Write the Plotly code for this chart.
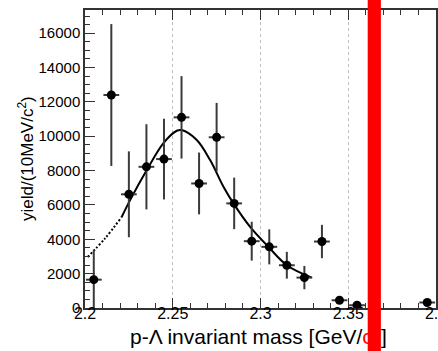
import plotly.graph_objects as go

# Data
mass = [2.205, 2.215, 2.225, 2.235, 2.245, 2.255, 2.265, 2.275, 2.285,
        2.295, 2.305, 2.315, 2.325, 2.335, 2.345, 2.355, 2.395]
yield_vals = [1650, 12400, 6620, 8220, 8670, 11100, 7250, 9940, 6090,
              3890, 3560, 2490, 1770, 3870, 450, 160, 320]
yield_err = [1720, 4130, 2500, 2480, 2350, 2400, 1800, 2000, 1500,
             1130, 1020, 780, 680, 970, 150, 100, 100]
bin_half = 0.0045

# Fit curve
fit_dot_x = [2.2015, 2.2114, 2.2209]
fit_dot_y = [2970, 4050, 5300]
fit_x = [2.2209, 2.2257, 2.2352, 2.2446, 2.2523, 2.2551, 2.2637, 2.2713,
         2.2789, 2.2846, 2.2941, 2.3045, 2.3150, 2.3292]
fit_y = [5300, 6280, 8030, 9590, 10320, 10360, 9780, 8610,
         7060, 6090, 4720, 3560, 2490, 1770]

x_ticks = [2.2, 2.25, 2.3, 2.35, 2.4]
x_ticklabels = ["2.2", "2.25", "2.3", "2.35", "2.4"]
y_ticks = [0, 2000, 4000, 6000, 8000, 10000, 12000, 14000, 16000]

x_title = "p-Λ invariant mass [GeV/<span style='color:#ff0000'>c<sup>2</sup></span>]"
y_title = "yield/(10MeV/c<sup>2</sup>)"

FONT = "Liberation Sans, Arial, sans-serif"

fig = go.Figure()
fig.add_trace(go.Scatter(x=fit_dot_x, y=fit_dot_y, mode="lines",
                         line=dict(color="black", width=2, dash="2px,2px", shape="spline"),
                         showlegend=False, hoverinfo="skip"))
fig.add_trace(go.Scatter(x=fit_x, y=fit_y, mode="lines",
                         line=dict(color="black", width=2, shape="spline"),
                         showlegend=False, hoverinfo="skip"))
fig.add_trace(go.Scatter(
    x=mass, y=yield_vals, mode="markers",
    marker=dict(color="black", size=9, symbol="circle"),
    error_y=dict(type="data", array=yield_err, color="#3a3a3a", thickness=2, width=0),
    error_x=dict(type="constant", value=bin_half, color="#3a3a3a", thickness=2, width=0),
    showlegend=False))

# red vertical bar overlaying the figure
fig.add_shape(type="rect", xref="paper", yref="paper",
              x0=0.8054, x1=0.843, y0=-0.3, y1=1.2,
              fillcolor="#ff0000", line=dict(width=0), layer="above")

fig.add_annotation(text=x_title, xref="paper", yref="paper", x=0.4957, y=-0.0906,
                   xanchor="center", yanchor="middle", showarrow=False,
                   font=dict(size=21, family=FONT, color="black"))
fig.add_annotation(text=y_title, xref="paper", yref="paper", x=-0.168, y=0.5,
                   xanchor="center", yanchor="middle", showarrow=False, textangle=-90,
                   font=dict(size=17, family=FONT, color="black"))

fig.update_layout(
    width=438, height=351,
    margin=dict(l=85, r=2, t=10, b=43, autoexpand=False),
    paper_bgcolor="white", plot_bgcolor="white",
    font=dict(family=FONT, color="black", size=15),
    xaxis=dict(range=[2.2, 2.4], tickvals=x_ticks, ticktext=x_ticklabels,
               ticks="inside", ticklen=10, tickwidth=1, tickcolor="#333",
               showline=True, linecolor="#333", linewidth=1.5, mirror="ticks",
               showgrid=True, gridcolor="#c0c0c0", griddash="dot", gridwidth=1,
               zeroline=False, ticklabeloverflow="allow", ticklabelstandoff=-10,
               automargin=False,
               minor=dict(dtick=0.01, ticks="inside", ticklen=5, tickcolor="#333", showgrid=False),
               tickfont=dict(size=16)),
    yaxis=dict(range=[0, 17350], tickvals=y_ticks, tickformat="d",
               ticks="inside", ticklen=10, tickwidth=1, tickcolor="#333",
               showline=True, linecolor="#333", linewidth=1.5, mirror=True,
               showgrid=False, zeroline=False, automargin=False,
               minor=dict(dtick=500, ticks="inside", ticklen=5, tickcolor="#333", showgrid=False),
               tickfont=dict(size=15)),
)

fig.write_html("out.html")
